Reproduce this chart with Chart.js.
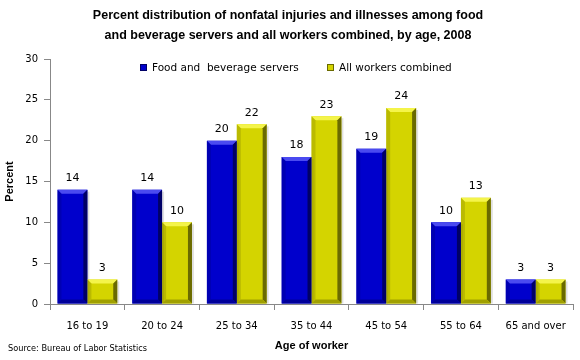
<!DOCTYPE html>
<html><head><meta charset="utf-8">
<script src="https://cdn.jsdelivr.net/npm/chart.js@4.4.1/dist/chart.umd.min.js"></script>
<style>html,body{margin:0;padding:0;background:#fff}#wrap{width:580px;height:360px}</style>
</head><body><div id="wrap"><canvas id="c" width="580" height="360"></canvas></div>
<script>
const categories = ["16 to 19","20 to 24","25 to 34","35 to 44","45 to 54","55 to 64","65 and over"];
const foodServers = [14,14,20,18,19,10,3];
const allWorkers = [3,10,22,23,24,13,3];
const seriesNames = ["Food and  beverage servers","All workers combined"];
const yTicks = [0,5,10,15,20,25,30];

const BLUE = '#0000CC', YELLOW = '#D4D400';
const shades = {
  '#0000CC': {light:'#4A4AF0', dark:'#000066', mid:'#00009A'},
  '#D4D400': {light:'#F4F44A', dark:'#6A6A00', mid:'#A0A000'}
};

const bevelPlugin = {
  id:'bevel',
  afterDatasetsDraw(chart){
    const ctx = chart.ctx;
    chart.data.datasets.forEach((ds,di)=>{
      const meta = chart.getDatasetMeta(di);
      const s = shades[ds.backgroundColor];
      meta.data.forEach((el,i)=>{
        const l = el.x - el.width/2, r = el.x + el.width/2, t = el.y, b = el.base;
        const e = 4;
        ctx.save();
        ctx.fillStyle='rgba(0,0,0,0.12)';
        ctx.fillRect(r, t+2, 2, b-t-2);
        ctx.fillStyle = s.light;
        ctx.beginPath(); ctx.moveTo(l,t); ctx.lineTo(r,t); ctx.lineTo(r-e,t+e); ctx.lineTo(l+e,t+e); ctx.closePath(); ctx.fill();
        ctx.fillStyle = s.dark;
        ctx.beginPath(); ctx.moveTo(r,t); ctx.lineTo(r,b); ctx.lineTo(r-e,b-e); ctx.lineTo(r-e,t+e); ctx.closePath(); ctx.fill();
        ctx.fillStyle = s.mid;
        ctx.beginPath(); ctx.moveTo(l,b); ctx.lineTo(r,b); ctx.lineTo(r-e,b-e); ctx.lineTo(l+e,b-e); ctx.closePath(); ctx.fill();
        ctx.globalAlpha = 0.5;
        ctx.beginPath(); ctx.moveTo(l,t); ctx.lineTo(l+e,t+e); ctx.lineTo(l+e,b-e); ctx.lineTo(l,b); ctx.closePath(); ctx.fill();
        ctx.restore();
        ctx.save();
        ctx.fillStyle='#000';
        ctx.font='11px "DejaVu Sans"';
        ctx.textAlign='center'; ctx.textBaseline='bottom';
        ctx.fillText(String(ds.data[i]), el.x, t-6);
        ctx.restore();
      });
    });
  },
  afterDraw(chart){
    const ctx = chart.ctx;
    ctx.save();
    const items = [[140,seriesNames[0],BLUE],[327,seriesNames[1],YELLOW]];
    ctx.font='10.5px "DejaVu Sans"';
    ctx.textBaseline='middle'; ctx.textAlign='left';
    items.forEach(([x,txt,col])=>{
      ctx.fillStyle=col; ctx.fillRect(x,64,7,7);
      ctx.strokeStyle=shades[col].dark; ctx.lineWidth=1; ctx.strokeRect(x+0.5,64.5,6,6);
      ctx.fillStyle='#000'; ctx.fillText(txt,x+12,68);
    });
    ctx.font='8.2px "DejaVu Sans"';
    ctx.fillText('Source: Bureau of Labor Statistics',8,349);
    ctx.restore();
  }
};

new Chart(document.getElementById('c'),{
  type:'bar',
  data:{labels:categories,datasets:[
    {label:seriesNames[0],data:foodServers,backgroundColor:BLUE,borderWidth:0},
    {label:seriesNames[1],data:allWorkers,backgroundColor:YELLOW,borderWidth:0}
  ]},
  options:{
    responsive:false,animation:false,devicePixelRatio:1,
    categoryPercentage:0.8,barPercentage:1.0,
    layout:{padding:{left:3,right:7,top:6,bottom:7}},
    plugins:{
      legend:{display:false},tooltip:{enabled:false},
      title:{display:true,text:['Percent distribution of nonfatal injuries and illnesses among food','and beverage servers and all workers combined, by age, 2008'],
        font:{family:'"Liberation Sans"',size:12.5,weight:'bold',lineHeight:1.6},color:'#000',padding:{top:0,bottom:13}}
    },
    scales:{
      y:{min:0,max:30,
        afterBuildTicks(s){s.ticks=yTicks.map(v=>({value:v}));},
        afterFit(s){s.width=47;},
        ticks:{font:{family:'"DejaVu Sans"',size:10},color:'#000',padding:6},
        grid:{drawOnChartArea:false,drawTicks:true,tickLength:6,color:'#888'},
        border:{display:true,color:'#888'},
        title:{display:true,text:'Percent',font:{family:'"Liberation Sans"',size:11,weight:'bold'},color:'#000',padding:{top:0,bottom:0}}
      },
      x:{
        afterFit(s){s.height=49;},
        ticks:{font:{family:'"DejaVu Sans"',size:10},color:'#000',padding:10,maxRotation:0},
        grid:{drawOnChartArea:false,drawTicks:true,tickLength:6,color:'#888',offset:true},
        border:{display:true,color:'#888'},
        title:{display:true,text:'Age of worker',font:{family:'"Liberation Sans"',size:11,weight:'bold'},color:'#000',padding:{top:0,bottom:0}}
      }
    }
  },
  plugins:[bevelPlugin]
});
</script></body></html>
